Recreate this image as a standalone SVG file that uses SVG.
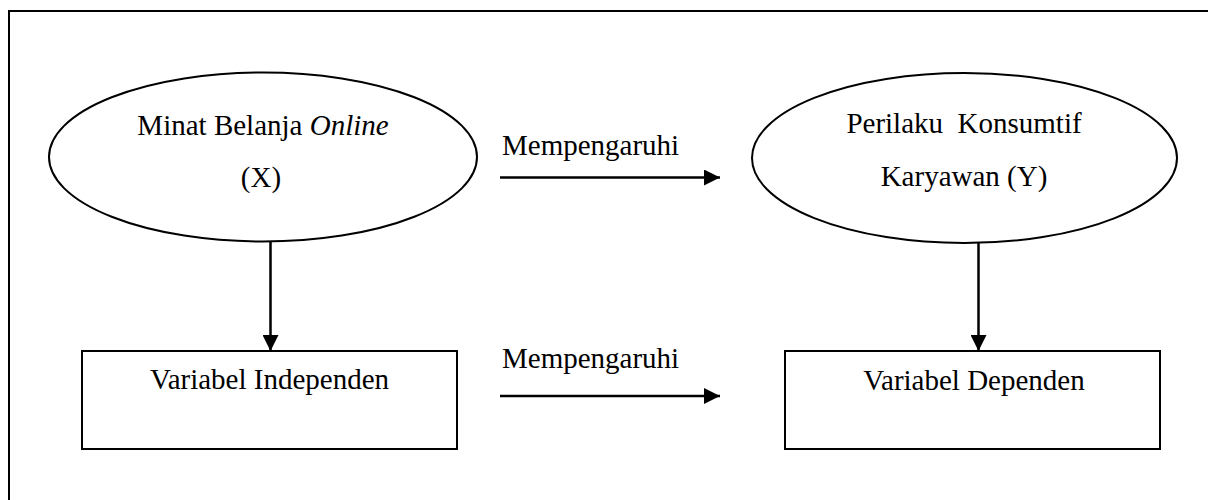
<svg xmlns="http://www.w3.org/2000/svg" width="1208" height="500" viewBox="0 0 1208 500">
<style>
.t{font-family:"Liberation Serif","Times New Roman",serif;font-size:29px;fill:#000}
.s{fill:#fff;stroke:#000;stroke-width:2}
.c{stroke:#000;stroke-width:2.5;fill:none}
</style>
<defs>
<marker id="ah" markerUnits="userSpaceOnUse" markerWidth="16" markerHeight="16" refX="16" refY="8" orient="auto">
<path d="M0,0 L16,8 L0,16 Z" fill="#000"/>
</marker>
</defs>
<rect width="1208" height="500" fill="#fff"/>
<rect id="frame" x="9" y="11" width="1220" height="520" fill="none" stroke="#000" stroke-width="2"/>
<g id="x-node">
<ellipse class="s" cx="263" cy="157" rx="214" ry="84.5"/>
<text class="t" x="263" y="135" text-anchor="middle">Minat Belanja <tspan font-style="italic">Online</tspan></text>
<text class="t" x="261" y="187" text-anchor="middle">(X)</text>
</g>
<g id="y-node">
<ellipse class="s" cx="964.5" cy="158" rx="212.5" ry="85"/>
<text class="t" x="964" y="133" text-anchor="middle" xml:space="preserve">Perilaku  Konsumtif</text>
<text class="t" x="964" y="186" text-anchor="middle">Karyawan (Y)</text>
</g>
<g id="independen">
<rect class="s" x="82" y="351" width="375" height="98"/>
<text class="t" x="269.5" y="389" text-anchor="middle">Variabel Independen</text>
</g>
<g id="dependen">
<rect class="s" x="785" y="351" width="375" height="98"/>
<text class="t" x="974" y="390" text-anchor="middle">Variabel Dependen</text>
</g>
<g id="connectors">
<line class="c" x1="500" y1="177.5" x2="720" y2="177.5" marker-end="url(#ah)"/>
<text class="t" x="502" y="155">Mempengaruhi</text>
<line class="c" x1="500" y1="396" x2="720" y2="396" marker-end="url(#ah)"/>
<text class="t" x="502" y="368">Mempengaruhi</text>
<line class="c" x1="270.5" y1="241.5" x2="270.5" y2="351" marker-end="url(#ah)"/>
<line class="c" x1="978.5" y1="243" x2="978.5" y2="351" marker-end="url(#ah)"/>
</g>
</svg>
